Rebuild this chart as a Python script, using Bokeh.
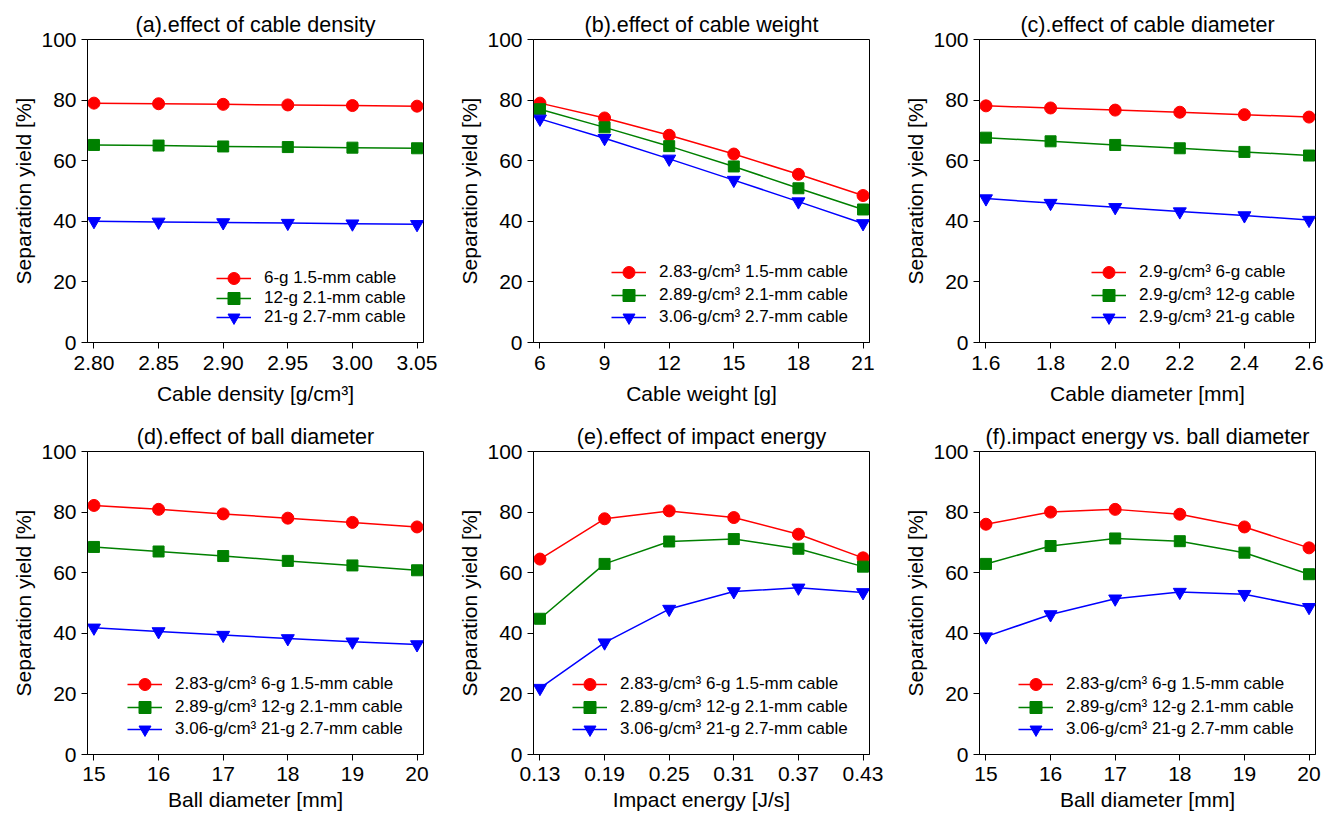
from bokeh.plotting import figure
from bokeh.layouts import column, row
from bokeh.models import Range1d, FixedTicker, Legend, LegendItem
from bokeh.embed import file_html
from bokeh.resources import INLINE

FONT = "Liberation Sans"

# ---------------- data ----------------
y_ticks = [0, 20, 40, 60, 80, 100]

density_x = [2.80, 2.85, 2.90, 2.95, 3.00, 3.05]
density_tick_labels = ["2.80", "2.85", "2.90", "2.95", "3.00", "3.05"]
density_red = [79.0, 78.8, 78.6, 78.4, 78.2, 78.0]
density_green = [65.2, 65.0, 64.7, 64.5, 64.3, 64.1]
density_blue = [40.0, 39.8, 39.6, 39.4, 39.2, 39.0]
density_labels = ["6-g 1.5-mm cable", "12-g 2.1-mm cable", "21-g 2.7-mm cable"]

weight_x = [6, 9, 12, 15, 18, 21]
weight_tick_labels = ["6", "9", "12", "15", "18", "21"]
weight_red = [79.0, 74.1, 68.4, 62.2, 55.5, 48.5]
weight_green = [77.0, 71.0, 64.8, 58.1, 50.9, 43.9]
weight_blue = [73.8, 67.4, 60.6, 53.6, 46.5, 39.3]
weight_labels = ["2.83-g/cm³ 1.5-mm cable", "2.89-g/cm³ 2.1-mm cable", "3.06-g/cm³ 2.7-mm cable"]

cdiam_x = [1.6, 1.8, 2.0, 2.2, 2.4, 2.6]
cdiam_tick_labels = ["1.6", "1.8", "2.0", "2.2", "2.4", "2.6"]
cdiam_red = [78.1, 77.4, 76.7, 76.0, 75.2, 74.4]
cdiam_green = [67.6, 66.4, 65.2, 64.1, 62.9, 61.7]
cdiam_blue = [47.5, 46.0, 44.6, 43.2, 41.9, 40.4]
cdiam_labels = ["2.9-g/cm³ 6-g cable", "2.9-g/cm³ 12-g cable", "2.9-g/cm³ 21-g cable"]

ball_x = [15, 16, 17, 18, 19, 20]
ball_tick_labels = ["15", "16", "17", "18", "19", "20"]
ball_red = [82.2, 80.9, 79.4, 78.0, 76.6, 75.1]
ball_green = [68.5, 67.0, 65.5, 63.9, 62.4, 60.8]
ball_blue = [41.8, 40.6, 39.4, 38.3, 37.2, 36.3]

energy_x = [0.13, 0.19, 0.25, 0.31, 0.37, 0.43]
energy_tick_labels = ["0.13", "0.19", "0.25", "0.31", "0.37", "0.43"]
energy_red = [64.5, 77.8, 80.4, 78.2, 72.7, 64.9]
energy_green = [44.8, 62.9, 70.3, 71.1, 67.9, 62.0]
energy_blue = [21.9, 36.9, 48.0, 53.8, 55.0, 53.5]

vs_x = [15, 16, 17, 18, 19, 20]
vs_tick_labels = ["15", "16", "17", "18", "19", "20"]
vs_red = [76.0, 80.0, 80.9, 79.3, 75.1, 68.2]
vs_green = [62.9, 68.8, 71.3, 70.4, 66.6, 59.5]
vs_blue = [38.9, 46.2, 51.4, 53.6, 52.9, 48.6]

full_labels = ["2.83-g/cm³ 6-g 1.5-mm cable", "2.89-g/cm³ 12-g 2.1-mm cable", "3.06-g/cm³ 21-g 2.7-mm cable"]

y_label = "Separation yield [%]"


def panel(title, xs, tick_labels, series, labels, xlabel, legend_x, pitch,
          left, right, top, bottom, tick_standoff, xlabel_standoff):
    pad = 0.02 * (xs[-1] - xs[0])
    p = figure(frame_width=336, frame_height=303,
               x_range=Range1d(xs[0] - pad, xs[-1] + pad),
               y_range=Range1d(0, 100),
               output_backend="svg", toolbar_location=None,
               min_border_left=left, min_border_right=right,
               min_border_top=top, min_border_bottom=bottom,
               title=title)
    p.title.align = "center"
    p.title.text_font = FONT
    p.title.text_font_size = "21.5px"
    p.title.text_font_style = "normal"
    p.title.text_color = "black"
    p.title.standoff = 5
    p.grid.visible = False
    p.outline_line_color = "black"
    p.outline_line_width = 1
    p.outline_line_alpha = 1
    for ax in (p.xaxis[0], p.yaxis[0]):
        ax.major_tick_out = 6
        ax.major_tick_in = 0
        ax.minor_tick_line_color = None
        ax.axis_line_color = "black"
        ax.major_tick_line_color = "black"
        ax.major_label_text_font = FONT
        ax.major_label_text_font_size = "21px"
        ax.major_label_text_color = "black"
        ax.axis_label_text_font = FONT
        ax.axis_label_text_font_size = "21px"
        ax.axis_label_text_font_style = "normal"
        ax.axis_label_text_color = "black"
    p.xaxis[0].ticker = FixedTicker(ticks=xs)
    p.xaxis[0].major_label_overrides = {x: t for x, t in zip(xs, tick_labels)}
    p.xaxis[0].major_label_standoff = tick_standoff
    p.xaxis[0].axis_label = xlabel
    p.xaxis[0].axis_label_standoff = xlabel_standoff
    p.yaxis[0].ticker = FixedTicker(ticks=y_ticks)
    p.yaxis[0].major_label_standoff = 5
    p.yaxis[0].axis_label = y_label
    p.yaxis[0].axis_label_standoff = 3

    styles = [("red", "circle", 12), ("green", "square", 11), ("blue", "inverted_triangle", 13)]
    glyph_h = 30
    for i, (ys, lab, (col, mk, sz)) in enumerate(zip(series, labels, styles)):
        r_line = p.line(xs, ys, line_color=col, line_width=1.5)
        r_pts = p.scatter(xs, ys, marker=mk, size=sz, fill_color=col, line_color=col)
        lg = Legend(items=[LegendItem(label=lab, renderers=[r_line, r_pts])],
                    location=(legend_x, 25 - glyph_h / 2 + (2 - i) * pitch),
                    padding=0, margin=0, spacing=0,
                    glyph_width=35, glyph_height=glyph_h, label_height=glyph_h,
                    label_standoff=13, label_text_font=FONT,
                    label_text_font_size="17px", label_text_color="black",
                    border_line_color=None, background_fill_alpha=0)
        p.add_layout(lg, "center")
    return p


pa = panel("(a).effect of cable density", density_x, density_tick_labels,
           [density_red, density_green, density_blue], density_labels,
           "Cable density [g/cm³]", 129, 19.5, 87, 30, 39, 78, 7, 9)
pb = panel("(b).effect of cable weight", weight_x, weight_tick_labels,
           [weight_red, weight_green, weight_blue], weight_labels,
           "Cable weight [g]", 78, 22.5, 80, 30, 39, 78, 7, 9)
pc = panel("(c).effect of cable diameter", cdiam_x, cdiam_tick_labels,
           [cdiam_red, cdiam_green, cdiam_blue], cdiam_labels,
           "Cable diameter [mm]", 112, 22.5, 80, 11, 39, 78, 7, 9)
pd = panel("(d).effect of ball diameter", ball_x, ball_tick_labels,
           [ball_red, ball_green, ball_blue], full_labels,
           "Ball diameter [mm]", 40, 22.5, 87, 30, 30, 60, 6, 4)
pe = panel("(e).effect of impact energy", energy_x, energy_tick_labels,
           [energy_red, energy_green, energy_blue], full_labels,
           "Impact energy [J/s]", 39, 22.5, 80, 30, 30, 60, 6, 4)
pf = panel("(f).impact energy vs. ball diameter", vs_x, vs_tick_labels,
           [vs_red, vs_green, vs_blue], full_labels,
           "Ball diameter [mm]", 39, 22.5, 80, 11, 30, 60, 6, 4)

layout = column(row(pa, pb, pc), row(pd, pe, pf))
open("out.html", "w").write(file_html(layout, INLINE))
